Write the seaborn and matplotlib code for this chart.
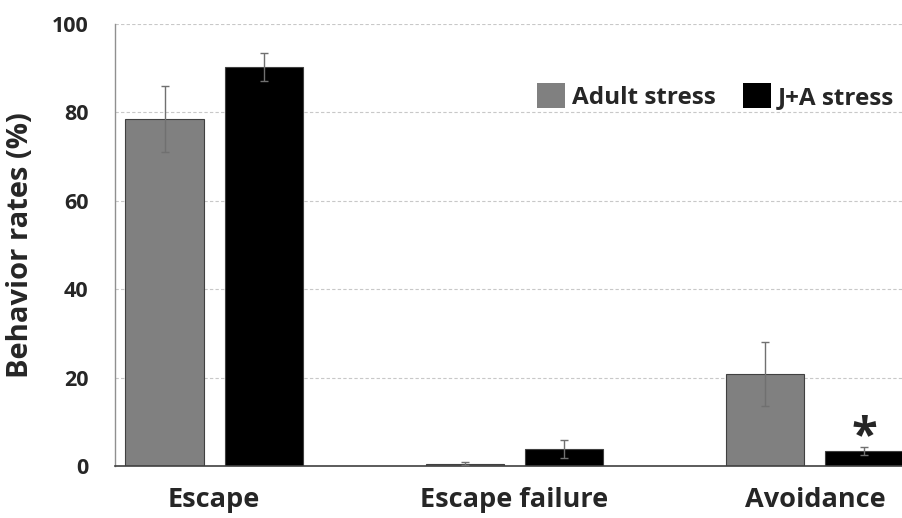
import matplotlib
matplotlib.use("Agg")
import matplotlib.pyplot as plt
import seaborn as sns
import pandas as pd
import numpy as np

categories = ["Escape", "Escape failure", "Avoidance"]
groups = ["Adult stress", "J+A stress"]
adult_vals = [78.5, 0.5, 20.8]
adult_err = [7.5, 0.3, 7.3]
ja_vals = [90.3, 3.8, 3.4]
ja_err = [3.1, 2.0, 0.8]
colors = ["#808080", "#000000"]

sns.set_theme(style="white")
plt.rcParams["font.family"] = ["Open Sans", "DejaVu Sans"]

df = pd.DataFrame({
    "category": categories * 2,
    "group": [groups[0]] * 3 + [groups[1]] * 3,
    "value": adult_vals + ja_vals,
})
errs = adult_err + ja_err

fig = plt.figure(figsize=(9.02, 5.18), dpi=100)
ax = fig.add_axes([0.1275, 0.1004, 0.8725, 0.8533])

sns.barplot(data=df, x="category", y="value", hue="group", order=categories,
            hue_order=groups, palette=colors, width=0.66, gap=0.21,
            edgecolor="#404040", linewidth=0.8, errorbar=None, ax=ax, zorder=2)

for bar, e in zip(ax.patches[:6], errs):
    cx = bar.get_x() + bar.get_width() / 2
    ax.errorbar(cx, bar.get_height(), yerr=e, fmt="none", ecolor="#707070",
                elinewidth=1.0, capsize=3, capthick=1.0, zorder=3)

ax.set_ylim(0, 100)
ax.set_xlim(-0.33, 2.29)
ax.set_yticks([0, 20, 40, 60, 80, 100])
ax.yaxis.grid(True, linestyle=(0, (3, 2)), color="#c8c8c8", linewidth=0.8)
ax.set_axisbelow(True)
for s in ["top", "right"]:
    ax.spines[s].set_visible(False)
ax.spines["left"].set_color("#909090")
ax.spines["bottom"].set_color("#404040")
ax.spines["left"].set_linewidth(1.0)
ax.spines["bottom"].set_linewidth(1.2)
ax.tick_params(axis="y", length=0, pad=19, labelsize=15.5)
ax.tick_params(axis="x", length=0, pad=15, labelsize=19.5)
for lab in ax.get_xticklabels() + ax.get_yticklabels():
    lab.set_fontweight("bold")
ax.set_xlabel("")
ax.set_ylabel("Behavior rates (%)", fontsize=21, fontweight="bold", labelpad=12)

# significance marker above Avoidance J+A bar
star_bar = ax.patches[5]
ax.text(star_bar.get_x() + star_bar.get_width() / 2, 1.0, "*",
        ha="center", va="bottom", fontsize=34, fontweight="bold")

leg = ax.legend(loc="upper right", bbox_to_anchor=(1.018, 0.915), ncol=2, frameon=False,
                handlelength=1.15, handleheight=1.15, handletextpad=0.3,
                columnspacing=1.1, prop={"size": 17.5, "weight": "bold"})
for h in leg.legend_handles:
    h.set_edgecolor("none")

fig.savefig("out.png", dpi=100)
